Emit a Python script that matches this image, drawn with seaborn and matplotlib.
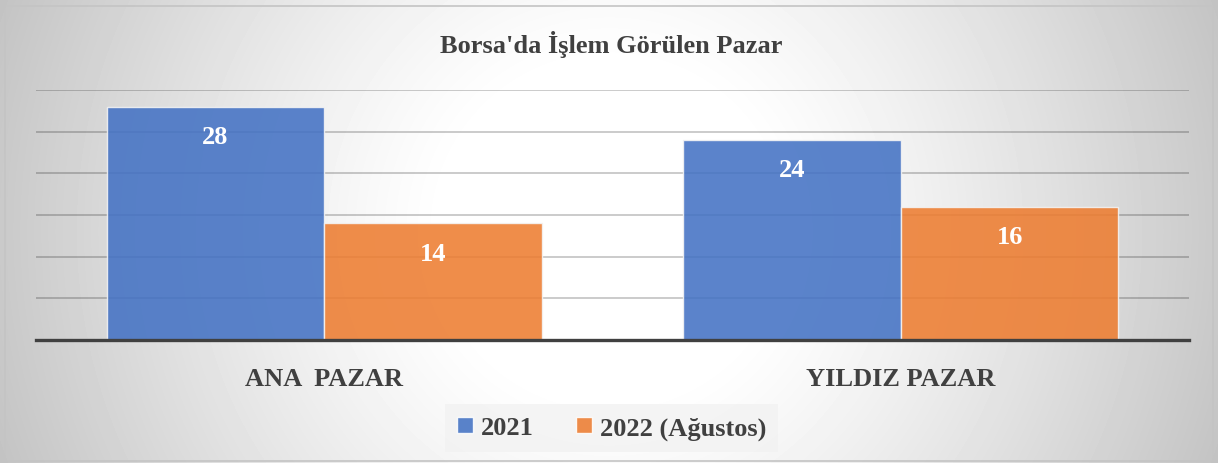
import numpy as np
import pandas as pd
import seaborn as sns
import matplotlib.pyplot as plt
from matplotlib.patches import Rectangle

# Veriler
kategoriler = ["ANA  PAZAR", "YILDIZ PAZAR"]
seriler = ["2021", "2022 (Ağustos)"]
degerler_2021 = [28, 24]
degerler_2022 = [14, 16]
renkler = ["#4472C4", "#ED7D31"]

df = pd.DataFrame({
    "pazar": kategoriler * 2,
    "yil": [seriler[0]] * 2 + [seriler[1]] * 2,
    "deger": degerler_2021 + degerler_2022,
})

sns.set_style("white")
serif = ["Liberation Serif", "DejaVu Serif"]
plt.rcParams["font.family"] = serif
plt.rcParams["font.weight"] = "bold"
yazi_rengi = "#404040"

fig = plt.figure(figsize=(12.18, 4.64), dpi=100)

# Arka plan: radyal gradyan (piksel uzayında)
bg = fig.add_axes([0, 0, 1, 1], zorder=-10)
yy, xx = np.mgrid[0:464, 0:1218]
d = np.sqrt((xx - 609) ** 2 + (yy - 232) ** 2) / 652.0
g = 1.0 - 0.235 * np.clip((d - 0.25) / 0.75, 0, 1) ** 1.2
bg.imshow(g, cmap="gray", vmin=0, vmax=1, aspect="auto", extent=[0, 1, 0, 1])
bg.set_axis_off()
fig.patches.append(Rectangle((5 / 1218, 2 / 464), 1208 / 1218, 455 / 464,
                             transform=fig.transFigure, fill=False,
                             edgecolor="#c4c4c4", linewidth=1.2))

ax = fig.add_axes([36 / 1218, 1 - 341 / 464, 1153 / 1218, 250 / 464])
ax.patch.set_alpha(0)
sns.barplot(data=df, x="pazar", y="deger", hue="yil", palette=renkler,
            width=0.755, alpha=0.88, edgecolor="#f4f4f4", linewidth=1.0,
            saturation=1, ax=ax, zorder=3)

ax.set_ylim(0, 30)
ax.set_xlim(-0.5, 1.5)
ax.set_yticks(range(5, 31, 5))
ax.yaxis.grid(True, color="black", alpha=0.22, linewidth=1.3, zorder=1)
ax.set_axisbelow(True)
ax.tick_params(axis="y", left=False, labelleft=False)
ax.tick_params(axis="x", bottom=False, pad=16)
ax.set_xticks(range(len(kategoriler)))
ax.set_xticklabels(kategoriler, fontfamily=serif, fontweight="bold",
                   fontsize=19, color=yazi_rengi)
ax.set_xlabel("")
ax.set_ylabel("")
for s in ["top", "right", "left"]:
    ax.spines[s].set_visible(False)
ax.spines["bottom"].set_color("#404040")
ax.spines["bottom"].set_linewidth(2.4)
ax.spines["bottom"].set_zorder(5)

for cont in ax.containers:
    for bar in cont:
        h = bar.get_height()
        ax.annotate(f"{h:.0f}", (bar.get_x() + bar.get_width() / 2, h),
                    xytext=(0, -21.5), textcoords="offset points",
                    ha="center", va="center", color="white",
                    fontsize=19, fontweight="bold", zorder=6)

fig.text(0.502, 1 - 45 / 464, "Borsa'da İşlem Görülen Pazar", ha="center",
         va="center", fontsize=19, fontweight="bold", color=yazi_rengi)

ax.legend_.remove()
handles = [Rectangle((0, 0), 1, 1, facecolor=c, alpha=0.88) for c in renkler]
leg = fig.legend(handles, seriler, loc="center", bbox_to_anchor=(0.502, 1 - 429 / 464),
                 ncol=2, frameon=True, fontsize=19, handlelength=0.6,
                 handleheight=0.6, handletextpad=0.3, columnspacing=1.6,
                 borderpad=0.45, borderaxespad=0, fancybox=False)
leg.get_frame().set_facecolor("#f2f2f2")
leg.get_frame().set_edgecolor("none")
for t in leg.get_texts():
    t.set_color(yazi_rengi)
    t.set_fontweight("bold")

fig.savefig("out.png", dpi=100)
